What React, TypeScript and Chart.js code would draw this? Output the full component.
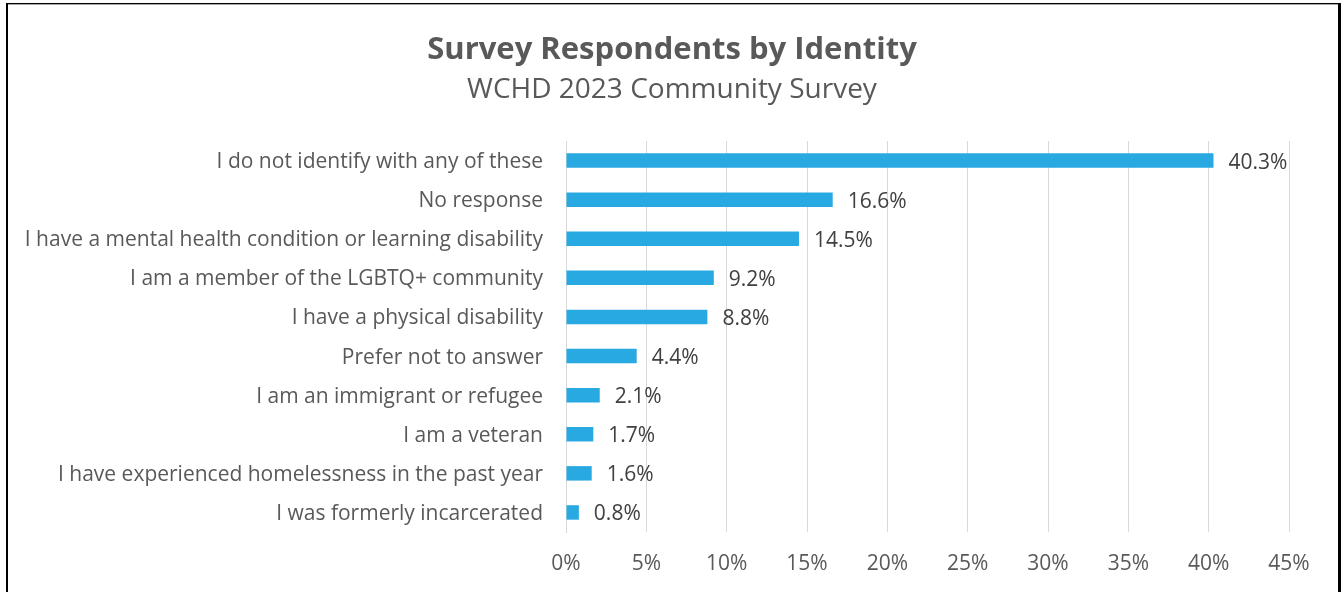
import React, { useEffect, useRef } from "react";
import { Chart, registerables } from "chart.js";

Chart.register(...registerables);

const categories = [
  "I do not identify with any of these",
  "No response",
  "I have a mental health condition or learning disability",
  "I am a member of the LGBTQ+ community",
  "I have a physical disability",
  "Prefer not to answer",
  "I am an immigrant or refugee",
  "I am a veteran",
  "I have experienced homelessness in the past year",
  "I was formerly incarcerated",
];
const percentValues = [40.3, 16.6, 14.5, 9.2, 8.8, 4.4, 2.1, 1.7, 1.6, 0.8];
const titleText = "Survey Respondents by Identity";
const subtitleText = "WCHD 2023 Community Survey";

const FONT = "'Open Sans', 'Liberation Sans', sans-serif";

const framePlugin = {
  id: "frame",
  beforeDraw(chart: any) {
    const ctx = chart.ctx;
    ctx.save();
    ctx.fillStyle = "#ffffff";
    ctx.fillRect(0, 0, chart.width, chart.height);
    ctx.fillStyle = "#000000";
    ctx.fillRect(6, 3, 2, chart.height);
    ctx.fillRect(6, 3, 1334, 1);
    ctx.fillRect(1338, 3, 3, chart.height);
    ctx.fillStyle = "#a6a6a6";
    ctx.fillRect(8, 4, 1330, 1);
    ctx.restore();
  },
};

const titlePlugin = {
  id: "titles",
  afterDraw(chart: any) {
    const ctx = chart.ctx;
    ctx.save();
    ctx.textAlign = "center";
    ctx.textBaseline = "alphabetic";
    ctx.fillStyle = "#595959";
    ctx.font = `bold 31px ${FONT}`;
    ctx.fillText(titleText, 672, 59);
    ctx.font = `28px ${FONT}`;
    ctx.fillText(subtitleText, 672, 98);
    ctx.restore();
  },
};

const valueLabelPlugin = {
  id: "valueLabels",
  afterDatasetsDraw(chart: any) {
    const ctx = chart.ctx;
    const meta = chart.getDatasetMeta(0);
    ctx.save();
    ctx.font = `21px ${FONT}`;
    ctx.fillStyle = "#404040";
    ctx.textAlign = "left";
    ctx.textBaseline = "middle";
    meta.data.forEach((bar: any, i: number) => {
      ctx.fillText(percentValues[i].toFixed(1) + "%", bar.x + 15, bar.y + 2);
    });
    ctx.restore();
  },
};

export default function App() {
  const canvasRef = useRef<HTMLCanvasElement | null>(null);

  useEffect(() => {
    if (!canvasRef.current) return;
    const chart = new Chart(canvasRef.current, {
      type: "bar",
      data: {
        labels: categories,
        datasets: [
          {
            data: percentValues,
            backgroundColor: "#29A9E1",
            barPercentage: 0.37,
            categoryPercentage: 1,
          },
        ],
      },
      options: {
        indexAxis: "y",
        responsive: false,
        animation: false,
        layout: { padding: { top: 141, right: 55, left: 0, bottom: 0 } },
        plugins: {
          legend: { display: false },
          title: { display: false },
          tooltip: { enabled: false },
        },
        scales: {
          x: {
            min: 0,
            max: 45,
            ticks: {
              stepSize: 5,
              padding: 19,
              color: "#595959",
              font: { family: FONT, size: 21 },
              callback: (v: any) => v + "%",
            },
            grid: { color: "#D9D9D9", drawTicks: false, lineWidth: 1 },
            border: { display: false },
            afterFit: (scale: any) => {
              scale.height = 60;
            },
          },
          y: {
            ticks: {
              padding: 23,
              labelOffset: 1.5,
              color: "#595959",
              font: { family: FONT, size: 21 },
            },
            grid: { display: false, drawTicks: false },
            border: { display: true, color: "#D9D9D9" },
            afterFit: (scale: any) => {
              scale.width = 566;
            },
          },
        },
      },
      plugins: [framePlugin, titlePlugin, valueLabelPlugin],
    });
    return () => chart.destroy();
  }, []);

  return (
    <div style={{ position: "fixed", left: 0, top: 0, width: 1344, height: 592 }}>
      <canvas ref={canvasRef} width={1344} height={592} style={{ display: "block" }} />
    </div>
  );
}
